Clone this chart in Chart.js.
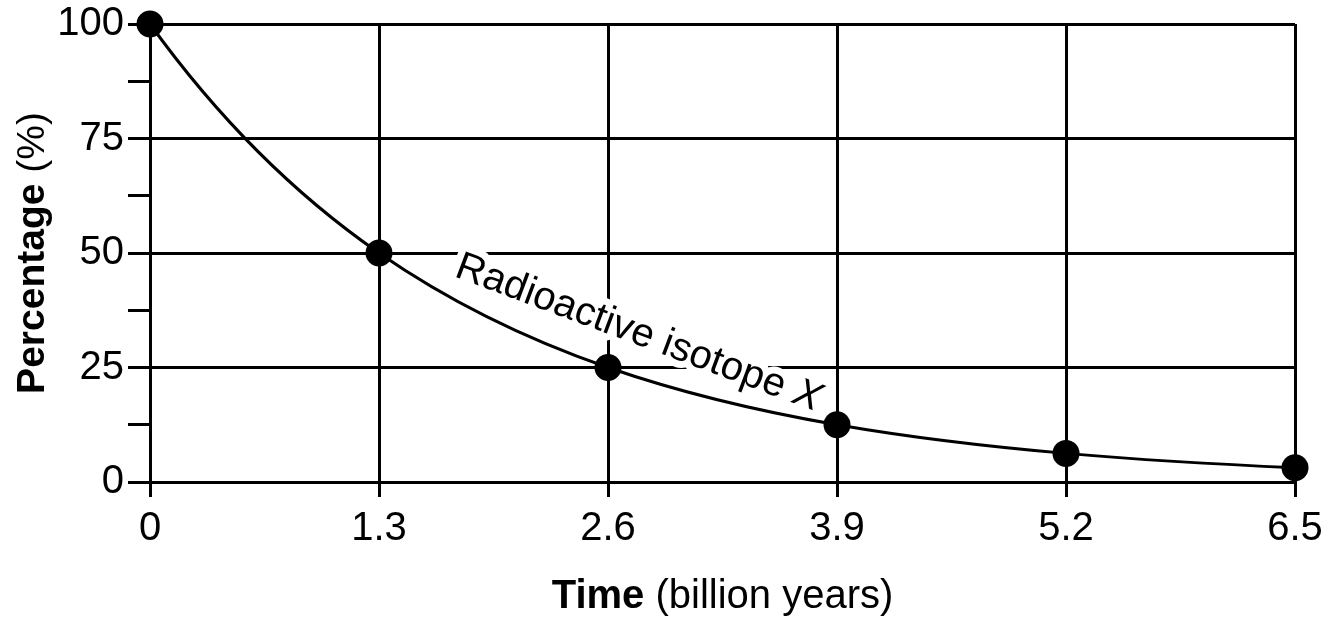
<!DOCTYPE html>
<html lang="en">
<head>
    <meta charset="UTF-8">
    <title>Radioactive isotope X</title>
    <script src="https://cdn.jsdelivr.net/npm/chart.js"></script>
    <style>
        body { margin: 0; background: #fff; }
    </style>
</head>
<body>
    <canvas id="decayChart" width="1331" height="619"></canvas>
    <script>
        // data
        const times = [0, 1.3, 2.6, 3.9, 5.2, 6.5];
        const percentages = [100, 50, 25, 12.5, 6.25, 3.125];
        const xTicks = [0, 1.3, 2.6, 3.9, 5.2, 6.5];
        const yTicks = [0, 12.5, 25, 37.5, 50, 62.5, 75, 87.5, 100];
        const yLabelTicks = [0, 25, 50, 75, 100];
        const seriesLabel = 'Radioactive isotope X';

        const FONT = '"Liberation Sans", Arial, Helvetica, sans-serif';

        // decay curve: bend the segments like a decay instead of monotone's straight-ish start
        // (tangent at each point from the log-ratio of its neighbours)
        const decayCurve = {
            id: 'decayCurve',
            beforeDatasetDraw(chart, args) {
                const meta = args.meta;
                const xs = chart.scales.x, ys = chart.scales.y;
                meta.dataset.updateControlPoints(chart.chartArea, 'x');
                const pts = meta.data;
                const n = times.length;
                const rate = i => Math.log(percentages[i + 1] / percentages[i]) / (times[i + 1] - times[i]);
                const slope = i => {
                    let k;
                    if (i === 0) k = rate(0);
                    else if (i === n - 1) k = rate(n - 2);
                    else k = (rate(i - 1) + rate(i)) / 2;
                    return percentages[i] * k;
                };
                for (let i = 0; i < n; i++) {
                    const p = pts[i];
                    const m = slope(i);
                    if (i > 0) {
                        const h = (times[i] - times[i - 1]) / 3;
                        p.cp1x = xs.getPixelForValue(times[i] - h);
                        p.cp1y = ys.getPixelForValue(percentages[i] - m * h);
                    }
                    if (i < n - 1) {
                        const h = (times[i + 1] - times[i]) / 3;
                        p.cp2x = xs.getPixelForValue(times[i] + h);
                        p.cp2y = ys.getPixelForValue(percentages[i] + m * h);
                    }
                }
            }
        };

        // curve label + axis titles
        const textPlugin = {
            id: 'texts',
            beforeDatasetsDraw(chart) {
                const ctx = chart.ctx;
                const xs = chart.scales.x, ys = chart.scales.y;
                const px = xs.getPixelForValue(2.75);
                const py = ys.getPixelForValue(30.2);
                ctx.save();
                ctx.translate(px, py);
                ctx.rotate(20.5 * Math.PI / 180);
                ctx.textAlign = 'left';
                ctx.textBaseline = 'alphabetic';
                const main = 'Radioactive isotope ';
                ctx.font = '40px ' + FONT;
                const w1 = ctx.measureText(main).width;
                ctx.font = 'italic 40px ' + FONT;
                const w2 = ctx.measureText('X').width;
                const start = -(w1 + w2) / 2;
                ctx.lineJoin = 'round';
                ctx.lineWidth = 14;
                ctx.strokeStyle = '#fff';
                ctx.fillStyle = '#000';
                ctx.font = '40px ' + FONT;
                ctx.strokeText(main, start, 0);
                ctx.font = 'italic 40px ' + FONT;
                ctx.strokeText('X', start + w1, 0);
                ctx.font = '40px ' + FONT;
                ctx.fillText(main, start, 0);
                ctx.font = 'italic 40px ' + FONT;
                ctx.fillText('X', start + w1, 0);
                ctx.restore();
            },
            afterDraw(chart) {
                const ctx = chart.ctx;
                const a = chart.chartArea;
                ctx.save();
                ctx.fillStyle = '#000';
                ctx.textBaseline = 'alphabetic';
                ctx.textAlign = 'left';

                // x title
                ctx.font = 'bold 40px ' + FONT;
                const b1 = ctx.measureText('Time').width;
                ctx.font = '40px ' + FONT;
                const b2 = ctx.measureText(' (billion years)').width;
                let sx = (a.left + a.right) / 2 - (b1 + b2) / 2;
                ctx.font = 'bold 40px ' + FONT;
                ctx.fillText('Time', sx, 608);
                ctx.font = '40px ' + FONT;
                ctx.fillText(' (billion years)', sx + b1, 608);

                // y title
                ctx.translate(44, (a.top + a.bottom) / 2);
                ctx.rotate(-Math.PI / 2);
                ctx.font = 'bold 39px ' + FONT;
                const c1 = ctx.measureText('Percentage').width;
                ctx.font = '39px ' + FONT;
                const c2 = ctx.measureText(' (%)').width;
                sx = -(c1 + c2) / 2;
                ctx.font = 'bold 39px ' + FONT;
                ctx.fillText('Percentage', sx, 0);
                ctx.font = '39px ' + FONT;
                ctx.fillText(' (%)', sx + c1, 0);
                ctx.restore();
            }
        };

        const ctx = document.getElementById('decayChart').getContext('2d');
        new Chart(ctx, {
            type: 'line',
            data: {
                datasets: [{
                    label: seriesLabel,
                    data: times.map((t, i) => ({ x: t, y: percentages[i] })),
                    borderColor: '#000',
                    borderWidth: 3,
                    backgroundColor: '#000',
                    pointBackgroundColor: '#000',
                    pointBorderWidth: 0,
                    pointRadius: 13.5,
                    cubicInterpolationMode: 'monotone',
                    clip: false
                }]
            },
            options: {
                responsive: false,
                animation: false,
                events: [],
                layout: { padding: { top: 24, right: 36, left: 0, bottom: 0 } },
                plugins: {
                    legend: { display: false },
                    tooltip: { enabled: false }
                },
                scales: {
                    x: {
                        type: 'linear',
                        min: 0,
                        max: 6.5,
                        afterBuildTicks: s => { s.ticks = xTicks.map(v => ({ value: v })); },
                        afterFit: s => { s.height = 137; s.paddingLeft = 0; s.paddingRight = 0; },
                        ticks: {
                            color: '#000',
                            font: { family: FONT, size: 40 },
                            padding: 8,
                            maxRotation: 0,
                            callback: v => String(v)
                        },
                        grid: { color: '#000', lineWidth: 3, tickLength: 15, tickColor: '#000' },
                        border: { color: '#000', width: 3 }
                    },
                    y: {
                        min: 0,
                        max: 100,
                        afterBuildTicks: s => { s.ticks = yTicks.map(v => ({ value: v })); },
                        afterFit: s => { s.width = 150; s.paddingTop = 0; s.paddingBottom = 0; },
                        ticks: {
                            color: '#000',
                            font: { family: FONT, size: 40 },
                            padding: 4,
                            callback: v => yLabelTicks.includes(v) ? String(v) : ''
                        },
                        grid: {
                            color: c => yLabelTicks.includes(c.tick.value) ? '#000' : 'rgba(0,0,0,0)',
                            lineWidth: 3,
                            tickLength: 22,
                            tickColor: '#000'
                        },
                        border: { color: '#000', width: 3 }
                    }
                }
            },
            plugins: [decayCurve, textPlugin]
        });
    </script>
</body>
</html>
